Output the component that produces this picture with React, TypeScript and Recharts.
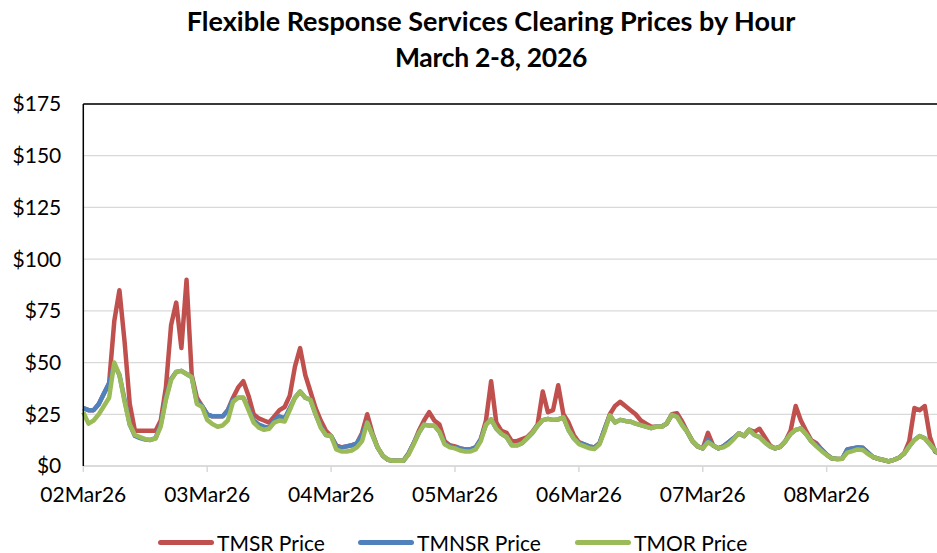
import React from "react";
import { LineChart, Line, XAxis, YAxis, CartesianGrid, ReferenceLine } from "recharts";

const FONT = "Lato, 'Open Sans', sans-serif";

const dayLabels = ["02Mar26", "03Mar26", "04Mar26", "05Mar26", "06Mar26", "07Mar26", "08Mar26"];
const dayTicks = [0, 24, 48, 72, 96, 120, 144];
const priceTicks = [0, 25, 50, 75, 100, 125, 150, 175];

// hourly prices, Mar 2 00:00 .. Mar 8 23:00
const tmsrPrice = [
  28, 27, 27, 30, 35, 40, 70, 85, 60, 30, 17, 17, 17, 17, 17, 22, 38, 68, 79, 57, 90, 44, 33, 29,
  25, 24, 24, 24, 27, 33, 38, 41, 34, 25, 23, 22, 21, 24, 27, 28.5, 34, 48, 57, 44, 36, 28, 22, 17,
  14.5, 10, 9, 9.5, 10, 11, 16, 25, 16, 9, 5, 3, 2.5, 2.5, 2.5, 6, 11, 17, 22, 26, 22, 20, 12, 10,
  9.5, 8.5, 8, 8, 9, 13, 22, 41, 21, 17, 16, 12, 12, 13, 14, 16.5, 20, 36, 26, 27, 39, 25, 21, 15,
  11.5, 10.5, 9.5, 9, 11, 18, 25, 29, 31, 29, 27, 25, 22, 20.5, 19, 19, 19, 20.5, 25, 25.5, 21.5, 16.5, 12, 9.5,
  8.5, 16, 10, 8.5, 9.5, 11.5, 13.5, 15.8, 14.5, 17.5, 16.5, 18, 14, 10, 8.5, 9.3, 12, 17, 29, 22, 17, 12.5, 11, 8,
  5.5, 3.7, 3.4, 3.5, 8, 8.5, 9, 8.8, 6.5, 4.3, 3.5, 2.9, 2.2, 3, 4, 6, 12, 28, 27, 29, 14, 7, 5.5, 4,
];

const tmnsrPrice = [
  28, 27, 27, 30, 35, 40, 49, 44, 32, 20, 14.5, 13.5, 12.8, 12.6, 13.5, 20, 33, 42, 45.5, 46, 44.5, 43, 31, 29,
  25, 24, 24, 24, 27, 32, 33, 33, 28, 22, 20, 19, 18.5, 22, 24, 23, 28, 33, 36, 33, 32, 25, 19, 15,
  14.5, 9.5, 9, 9.5, 10, 11, 15, 21, 15, 9, 5, 3, 2.5, 2.5, 2.5, 6, 11, 16, 20, 19.5, 19.5, 16.5, 11, 9.5,
  9, 8.5, 8, 8, 9, 13, 20, 22.5, 18, 15.5, 14, 10, 10, 11, 13.5, 16, 19.5, 22.2, 22.8, 22.3, 22.5, 23.5, 17.4, 13.4,
  11, 10.5, 9.5, 9, 11, 18, 24.5, 21, 22.3, 21.8, 21.4, 20.5, 19.8, 19, 18.3, 19, 19, 20.5, 24.7, 24, 20, 16.5, 12, 9.5,
  8.5, 12.5, 10, 8.5, 9.5, 11.5, 13.5, 15.8, 14.5, 17.5, 15, 14, 11.5, 9.5, 8.5, 9.3, 12, 15.5, 17.5, 18.2, 15.5, 12, 10, 8,
  5.5, 3.7, 3.4, 3.5, 8, 8.5, 9, 8.8, 6.5, 4.3, 3.5, 2.9, 2.2, 3, 4, 6, 9.5, 12.6, 14.5, 13.4, 10.5, 7.5, 5.5, 4,
];

const tmorPrice = [
  26, 20.5, 22, 25, 29, 33, 50, 44, 31, 20, 15, 14, 13, 12.6, 13.3, 19, 32, 41.5, 45.5, 46, 44.5, 43, 30, 28.7,
  22.3, 20.3, 19, 19.6, 22, 31, 33, 33, 27, 21, 18.5, 17.5, 18, 21, 22, 21.5, 27, 33, 36, 33, 32, 25, 18.5, 15,
  14.5, 8, 7, 7, 7.5, 9, 12, 21, 15, 9, 5, 3, 2.5, 2.5, 2.5, 5.5, 10.5, 16, 20, 19.5, 19.5, 16.5, 10.5, 9,
  8.5, 7.5, 7, 7, 8, 12, 20, 22.5, 18, 15.5, 14, 10, 10, 11, 13.5, 16, 19.5, 22.2, 22.8, 22.3, 22.5, 23.5, 17.4, 13.4,
  10.6, 9.6, 8.6, 8.2, 10.5, 17, 24.5, 21, 22.3, 21.8, 21.4, 20.5, 19.8, 19, 18.3, 19, 19, 20.5, 24.7, 23.8, 19.7, 16.5, 12, 9.5,
  8.5, 11.5, 10, 8.5, 9, 10.5, 13, 15.8, 14.5, 17.5, 15, 14, 11.5, 9.5, 8.5, 9.3, 12, 15.5, 17.5, 18.2, 15.5, 12, 9.5, 7.3,
  5.3, 3.7, 3.4, 3.5, 6.5, 7.2, 8, 7.7, 5.8, 4.3, 3.5, 2.9, 2.2, 3, 4, 6, 9.5, 12.6, 14.5, 13.4, 10.5, 7.5, 5.5, 4,
];

const series = [
  { key: "tmsr", name: "TMSR Price", color: "#C0504D" },
  { key: "tmnsr", name: "TMNSR Price", color: "#4F81BD" },
  { key: "tmor", name: "TMOR Price", color: "#9BBB59" },
];

const data = tmorPrice.map((v, i) => ({
  hour: i,
  tmsr: tmsrPrice[i],
  tmnsr: tmnsrPrice[i],
  tmor: v,
}));

const legendPos = [158, 358, 575];

export default function App() {
  return (
    <div
      style={{
        position: "absolute",
        left: 0,
        top: 0,
        width: 937,
        height: 553,
        overflow: "hidden",
        background: "#fff",
        fontFamily: FONT,
      }}
    >
      <div
        style={{
          position: "absolute",
          left: 0,
          width: 982,
          top: 3,
          textAlign: "center",
          fontWeight: 700,
          lineHeight: "36px",
          color: "#000",
        }}
      >
        <div style={{ fontSize: 27 }}>Flexible Response Services Clearing Prices by Hour</div>
        <div style={{ fontSize: 26.5, letterSpacing: -0.3 }}>March 2-8, 2026</div>
      </div>

      <div style={{ position: "absolute", left: 0, top: 0 }}>
        <LineChart
          width={960}
          height={553}
          data={data}
          margin={{ top: 104, right: 14.6, bottom: 57, left: 0 }}
        >
          <CartesianGrid vertical={false} stroke="#D9D9D9" strokeWidth={1.3} />
          <XAxis
            type="number"
            dataKey="hour"
            domain={[0, 167]}
            ticks={dayTicks}
            interval={0}
            tickFormatter={(v: number) => dayLabels[v / 24]}
            height={30}
            axisLine={{ stroke: "#D9D9D9", strokeWidth: 1.5 }}
            tickLine={{ stroke: "#D9D9D9", strokeWidth: 1.5 }}
            tickSize={6}
            tickMargin={15}
            tick={{ fill: "#000", fontSize: 21, fontFamily: FONT }}
          />
          <YAxis
            domain={[0, 175]}
            ticks={priceTicks}
            interval={0}
            tickFormatter={(v: number) => `$${v}`}
            width={83.3}
            axisLine={{ stroke: "#000", strokeWidth: 1.5 }}
            tickLine={false}
            tickSize={0}
            tickMargin={22}
            tick={{ fill: "#000", fontSize: 21, fontFamily: FONT }}
          />
          <ReferenceLine y={175} stroke="#000" strokeWidth={1.5} />
          {series.map((s) => (
            <Line
              key={s.key}
              type="linear"
              dataKey={s.key}
              name={s.name}
              stroke={s.color}
              strokeWidth={4.5}
              strokeLinejoin="round"
              dot={false}
              activeDot={false}
              isAnimationActive={false}
            />
          ))}
        </LineChart>
      </div>

      {series.map((s, i) => (
        <div
          key={s.key}
          style={{
            position: "absolute",
            left: legendPos[i],
            top: 529,
            height: 26,
            display: "flex",
            alignItems: "center",
            fontSize: 21,
            color: "#000",
            whiteSpace: "nowrap",
          }}
        >
          <span
            style={{
              display: "inline-block",
              width: 56,
              height: 5,
              borderRadius: 3,
              background: s.color,
              marginRight: 3,
            }}
          />
          {s.name}
        </div>
      ))}
    </div>
  );
}
